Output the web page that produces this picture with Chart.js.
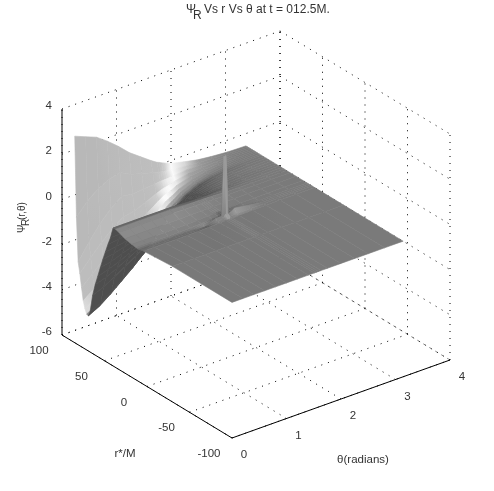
<!DOCTYPE html>
<html>
<head>
<meta charset="utf-8">
<style>
html,body{margin:0;padding:0;background:#fff;}
canvas{display:block;}
</style>
<script src="https://cdn.jsdelivr.net/npm/chart.js@4"></script>
</head>
<body>
<canvas id="chart" width="494" height="491"></canvas>
<script>
const thetaTicks = [0, 1, 2, 3, 4];
const rTicks = [-100, -50, 0, 50, 100];
const zTicks = [-6, -4, -2, 0, 2, 4];

// surface values, one row per r, one column per theta
const thetaValues = [0, .2, .4, .6, .8, 1, 1.2, 1.4, 1.51, 1.55, 1.59, 1.63, 1.75, 2, 2.25, 2.5, 2.8, 3.14];
const rValues = [85, 83, 81, 79, 77, 75, 73, 71, 69, 67, 64, 61, 58, 55, 52, 49, 46, 43, 40, 37, 33, 26, 18, 13, 11, 9, 7, 4, -30, -100];
const psiRows = [
    [3.14, 2.94, 2.75, 2.4, 2, 1.55, 1.2, .85, .68, .64, .59, .55, .42, .28, .15, .08, .02, 0],
    [-.4, .13, .53, .76, .89, .64, .5, .36, .29, .27, .25, .23, .18, .14, .08, .04, .01, 0],
    [-2.34, -1.63, -.99, -.5, -.12, -.19, -.14, -.1, -.07, -.07, -.06, -.06, -.03, .02, .01, .01, 0, 0],
    [-2.79, -2.26, -1.76, -1.33, -.98, -.9, -.69, -.48, -.37, -.35, -.33, -.31, -.21, -.09, -.04, -.01, -.01, 0],
    [-3.39, -2.95, -2.49, -2.06, -1.69, -1.48, -1.14, -.79, -.62, -.58, -.55, -.51, -.36, -.18, -.09, -.04, -.01, 0],
    [-3.92, -3.55, -3.12, -2.69, -2.29, -1.98, -1.52, -1.06, -.83, -.78, -.73, -.68, -.49, -.26, -.13, -.06, -.02, 0],
    [-4.22, -3.91, -3.52, -3.1, -2.7, -2.31, -1.78, -1.24, -.98, -.92, -.86, -.8, -.58, -.31, -.16, -.07, -.02, 0],
    [-4.41, -4.13, -3.77, -3.36, -2.95, -2.52, -1.94, -1.36, -1.06, -1, -.93, -.87, -.63, -.34, -.17, -.08, -.02, 0],
    [-4.45, -4.2, -3.85, -3.45, -3.05, -2.6, -2, -1.4, -1.1, -1.03, -.96, -.9, -.65, -.35, -.18, -.08, -.02, 0],
    [-4.23, -3.99, -3.66, -3.28, -2.9, -2.47, -1.9, -1.33, -1.05, -.98, -.91, -.86, -.62, -.33, -.17, -.08, -.02, 0],
    [-3.43, -3.23, -2.96, -2.66, -2.35, -2, -1.54, -1.08, -.85, -.79, -.74, -.69, -.5, -.27, -.14, -.06, -.02, 0],
    [-2.89, -2.73, -2.5, -2.24, -1.98, -1.69, -1.3, -.91, -.72, -.67, -.62, -.59, -.42, -.23, -.12, -.05, -.01, 0],
    [-2.45, -2.31, -2.12, -1.9, -1.68, -1.43, -1.1, -.77, -.61, -.57, -.53, -.5, -.36, -.19, -.1, -.04, -.01, 0],
    [-2, -1.89, -1.73, -1.55, -1.37, -1.17, -.9, -.63, -.5, -.47, -.44, -.41, -.29, -.16, -.08, -.04, -.01, 0],
    [-1.56, -1.47, -1.35, -1.21, -1.07, -.91, -.7, -.49, -.39, -.36, -.34, -.32, -.23, -.12, -.06, -.03, -.01, 0],
    [-1.16, -1.09, -1, -.9, -.79, -.68, -.52, -.36, -.29, -.27, -.25, -.23, -.17, -.09, -.05, -.02, -.01, 0],
    [-.76, -.71, -.65, -.59, -.52, -.44, -.34, -.24, -.19, -.18, -.16, -.15, -.11, -.06, -.03, -.01, 0, 0],
    [-.4, -.38, -.35, -.31, -.27, -.23, -.18, -.13, -.1, -.09, -.09, -.08, -.06, -.03, -.02, -.01, 0, 0],
    [.1, .1, .1, .1, .1, .1, .08, .06, .05, .05, .05, .05, .04, .02, .01, 0, 0, 0],
    [.12, .12, .12, .12, .12, .12, .1, .07, .06, .06, .06, .06, .05, .02, .01, 0, 0, 0],
    [.06, .06, .06, .06, .06, .06, .05, .04, .03, .03, .03, .03, .02, .01, .01, 0, 0, 0],
    [-.05, -.05, -.05, -.05, -.05, -.05, -.04, -.03, -.03, -.03, -.03, -.03, -.02, -.01, -.01, 0, 0, 0],
    [-.12, -.12, -.12, -.12, -.12, -.12, -.1, -.07, -.06, -.06, -.06, -.06, -.05, -.02, -.01, 0, 0, 0],
    [-.15, -.15, -.15, -.15, -.15, -.15, -.12, -.09, -.08, -.08, -.08, -.08, -.06, -.03, -.02, 0, 0, 0],
    [-.15, -.15, -.15, -.15, -.15, -.15, -.11, -.07, -.03, .12, .12, -.03, .05, 0, -.01, 0, 0, 0],
    [-.15, -.15, -.15, -.15, -.15, -.16, -.2, .02, .02, 2.65, 2.65, .02, .18, .1, -.01, 0, 0, 0],
    [-.12, -.12, -.12, -.12, -.12, -.13, -.11, -.08, -.03, .12, .12, -.03, -.04, -.02, -.01, 0, 0, 0],
    [-.1, -.1, -.1, -.1, -.1, -.1, -.08, -.06, -.05, -.05, -.05, -.05, -.04, -.02, -.01, 0, 0, 0],
    [0, 0, 0, 0, 0, 0, 0, 0, 0, 0, 0, 0, 0, 0, 0, 0, 0, 0],
    [0, 0, 0, 0, 0, 0, 0, 0, 0, 0, 0, 0, 0, 0, 0, 0, 0, 0]
];

// orthographic view of the box, in canvas units
function project(theta, r, z){
    return {
        x: 232 + theta * 54.5 - (r + 100) * 0.85,
        y: 438 - theta * 19.5 - (r + 100) * 0.515 - (z + 6) * 22.6
    };
}

const ctx = document.getElementById('chart').getContext('2d');

// gray level against the slope along r, this is the lighting of the surface
const slopeStops = [-.03, -.02, -.008, 0, .01, .02, .05, .06, .085, .12, .14, .18, 1];
const grayStops = [78, 80, 105, 122, 135, 145, 165, 200, 250, 250, 215, 190, 184];

function toneOf(slope){
    if(slope <= slopeStops[0]) return grayStops[0];
    for(let k = 1; k < slopeStops.length; k++){
        if(slope <= slopeStops[k]){
            const f = (slope - slopeStops[k - 1]) / (slopeStops[k] - slopeStops[k - 1]);
            return grayStops[k - 1] + f * (grayStops[k] - grayStops[k - 1]);
        }
    }
    return grayStops[grayStops.length - 1];
}

function vertexShade(i, j){
    const i0 = Math.max(i - 1, 0), i1 = Math.min(i + 1, rValues.length - 1);
    const dr = (psiRows[i0][j] - psiRows[i1][j]) / (rValues[i0] - rValues[i1]);
    return toneOf(dr);
}

function gray(v){
    const n = Math.round(v);
    return 'rgb(' + n + ',' + n + ',' + n + ')';
}

let shades = rValues.map((r, i) => thetaValues.map((t, j) => vertexShade(i, j)));
let layers = [];

function addLine(pts, color, width, dash){
    layers.push({
        data: pts,
        showLine: true,
        fill: false,
        borderColor: color,
        borderWidth: width,
        borderDash: dash,
        pointRadius: 0,
        tension: 0,
        clip: false
    });
}

// box grid, dotted, behind the surface
const dots = [1, 6];
rTicks.forEach(r => {
    addLine([project(0, r, -6), project(4, r, -6)], '#000', 1, dots);
    addLine([project(4, r, -6), project(4, r, 4)], '#000', 1, dots);
});
thetaTicks.forEach(t => {
    addLine([project(t, -100, -6), project(t, 100, -6)], '#000', 1, dots);
    addLine([project(t, 100, -6), project(t, 100, 4)], '#000', 1, dots);
});
zTicks.forEach(z => {
    addLine([project(0, 100, z), project(4, 100, z)], '#000', 1, dots);
    addLine([project(4, 100, z), project(4, -100, z)], '#000', 1, dots);
});

// axes
addLine([project(0, 100, -6), project(0, 100, 4)], '#000', 1, []);
addLine([project(0, 100, -6), project(0, -100, -6)], '#000', 1, []);
addLine([project(0, -100, -6), project(4, -100, -6)], '#000', 1, []);

// surface cells, far ones first
for(let i = 0; i < rValues.length - 1; i++){
    for(let j = thetaValues.length - 2; j >= 0; j--){
        const a = project(thetaValues[j], rValues[i], psiRows[i][j]);
        const b = project(thetaValues[j + 1], rValues[i], psiRows[i][j + 1]);
        const c = project(thetaValues[j + 1], rValues[i + 1], psiRows[i + 1][j + 1]);
        const d = project(thetaValues[j], rValues[i + 1], psiRows[i + 1][j]);
        const grad = ctx.createLinearGradient((a.x + d.x) / 2, (a.y + d.y) / 2, (b.x + c.x) / 2, (b.y + c.y) / 2);
        grad.addColorStop(0, gray((shades[i][j] + shades[i + 1][j]) / 2));
        grad.addColorStop(1, gray((shades[i][j + 1] + shades[i + 1][j + 1]) / 2));
        layers.push({
            data: [a, b, c, d, a],
            showLine: true,
            fill: 'shape',
            backgroundColor: grad,
            borderColor: grad,
            borderWidth: 0.6,
            pointRadius: 0,
            tension: 0,
            clip: false
        });
    }
}

// chart.js paints the first dataset last
layers.reverse();

const textPlugin = {
    id: 'textPlugin',
    afterDraw(chart){
        const c = chart.ctx;
        const px = p => ({x: chart.scales.x.getPixelForValue(p.x), y: chart.scales.y.getPixelForValue(p.y)});
        c.save();
        c.fillStyle = '#333';
        c.font = '11.5px "Liberation Sans"';
        c.textAlign = 'center';
        c.textBaseline = 'middle';
        zTicks.forEach(z => {
            const p = px(project(0, 100, z));
            c.textAlign = 'right';
            c.fillText(String(z), p.x - 10, p.y - 3);
        });
        c.textAlign = 'center';
        rTicks.forEach(r => {
            const p = px(project(0, r, -6));
            c.fillText(String(r), p.x - 23, p.y + 16);
        });
        thetaTicks.forEach(t => {
            const p = px(project(t, -100, -6));
            c.fillText(String(t), p.x + 12, p.y + 17);
        });
        c.fillText('r*/M', 125, 454);
        c.fillText('θ(radians)', 363, 460);

        // title with its subscript
        c.textAlign = 'left';
        c.font = '12px "Liberation Sans"';
        c.fillText('Ψ', 186, 10);
        c.fillText('R', 193, 16);
        c.fillText('Vs r Vs θ at t = 012.5M.', 204, 10);

        c.font = '10px "Liberation Sans"';
        c.translate(22, 218);
        c.rotate(-Math.PI / 2);
        c.fillText('Ψ', -15, 0);
        c.fillText('R', -8, 4);
        c.fillText('(r,θ)', -2, 0);
        c.restore();
    }
};

new Chart(
    ctx,
    {
        type: 'scatter',
        plugins: [textPlugin],
        options: {
            responsive: false,
            animation: false,
            layout: { padding: 0 },
            plugins: {
                legend: { display: false },
                tooltip: { enabled: false }
            },
            scales: {
                x: { type: 'linear', min: 0, max: 494, display: false },
                y: { type: 'linear', min: 0, max: 491, reverse: true, display: false }
            }
        },
        data: { datasets: layers }
    }
);
</script>
</body>
</html>
